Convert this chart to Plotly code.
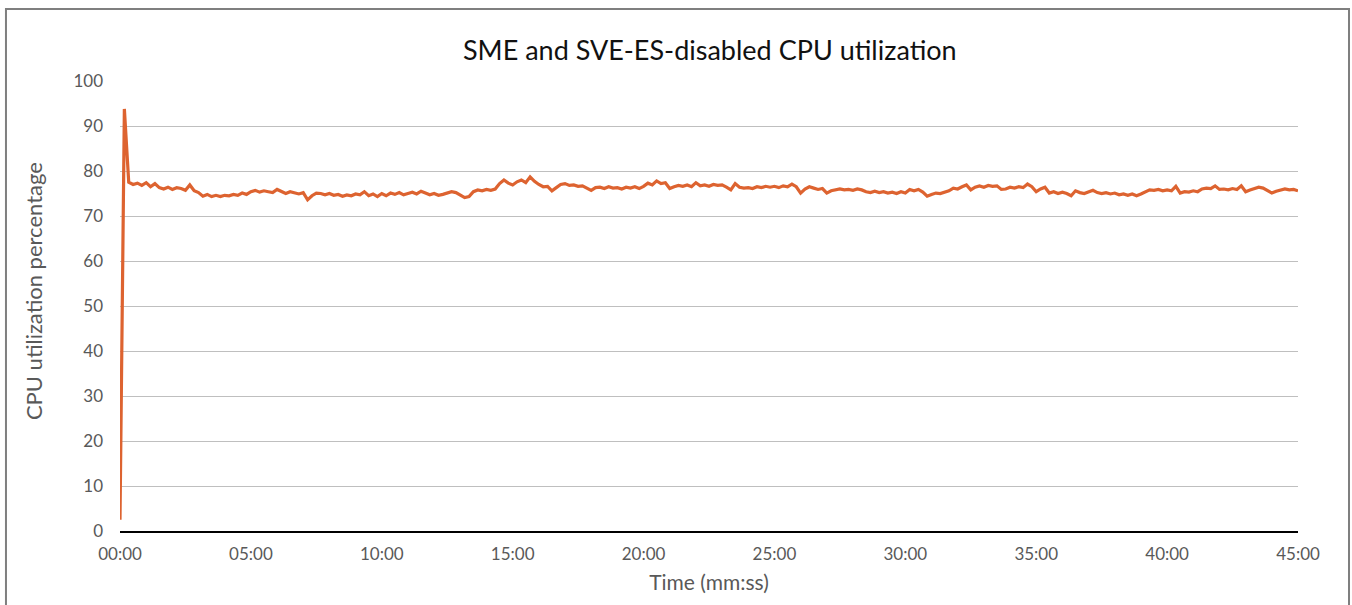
import plotly.graph_objects as go

title = "SME and SVE-ES-disabled CPU utilization"
x_title = "Time (mm:ss)"
y_title = "CPU utilization percentage"

# samples every 10 seconds, from 00:00 to 45:00
step_seconds = 10
cpu_util = [
    2.5, 93.8, 77.5, 77.0, 77.3, 76.8, 77.4, 76.5, 77.2, 76.3,
    76.0, 76.4, 75.9, 76.3, 76.1, 75.7, 76.9, 75.6, 75.2, 74.4,
    74.8, 74.3, 74.6, 74.3, 74.6, 74.5, 74.8, 74.6, 75.1, 74.8,
    75.4, 75.7, 75.3, 75.6, 75.4, 75.2, 75.9, 75.4, 75.0, 75.4,
    75.1, 74.9, 75.2, 73.6, 74.5, 75.1, 75.0, 74.7, 75.0, 74.6,
    74.8, 74.4, 74.7, 74.5, 74.9, 74.7, 75.4, 74.5, 74.9, 74.3,
    75.0, 74.5, 75.1, 74.8, 75.2, 74.7, 75.0, 75.3, 74.9, 75.5,
    75.1, 74.7, 75.0, 74.6, 74.8, 75.1, 75.4, 75.2, 74.6, 74.1,
    74.3, 75.4, 75.8, 75.6, 75.9, 75.7, 76.0, 77.2, 78.0, 77.3,
    76.9, 77.6, 78.0, 77.4, 78.7, 77.7, 77.0, 76.5, 76.6, 75.6,
    76.3, 77.0, 77.2, 76.8, 76.9, 76.6, 76.7, 76.2, 75.7, 76.3,
    76.4, 76.1, 76.5, 76.2, 76.3, 76.0, 76.4, 76.2, 76.5, 76.1,
    76.6, 77.3, 76.9, 77.8, 77.2, 77.4, 76.1, 76.5, 76.8, 76.6,
    76.9, 76.5, 77.4, 76.7, 76.9, 76.6, 77.0, 76.8, 76.9, 76.4,
    75.8, 77.2, 76.4, 76.2, 76.3, 76.1, 76.5, 76.3, 76.6, 76.4,
    76.6, 76.3, 76.7, 76.5, 77.1, 76.5, 75.1, 76.0, 76.5, 76.2,
    75.9, 76.1, 75.1, 75.6, 75.8, 76.0, 75.8, 75.9, 75.7, 76.0,
    75.8, 75.4, 75.2, 75.5, 75.2, 75.4, 75.1, 75.3, 75.0, 75.4,
    75.1, 75.9, 75.6, 75.9, 75.3, 74.4, 74.8, 75.1, 75.0, 75.3,
    75.6, 76.2, 76.0, 76.5, 76.9, 75.8, 76.4, 76.7, 76.4, 76.8,
    76.6, 76.7, 75.9, 76.0, 76.4, 76.2, 76.5, 76.3, 77.1, 76.5,
    75.4, 76.0, 76.4, 75.1, 75.4, 75.0, 75.3, 75.0, 74.5, 75.6,
    75.2, 75.0, 75.3, 75.7, 75.2, 75.0, 75.2, 74.9, 75.1, 74.7,
    74.9, 74.6, 74.9, 74.5, 74.9, 75.3, 75.8, 75.7, 75.9, 75.6,
    75.8, 75.6, 76.6, 75.1, 75.4, 75.3, 75.6, 75.4, 76.0, 76.2,
    76.1, 76.7, 75.9, 76.0, 75.8, 76.1, 75.9, 76.7, 75.4, 75.8,
    76.1, 76.4, 76.2, 75.6, 75.1, 75.5, 75.8, 76.0, 75.8, 75.9,
    75.6,
]
time_seconds = [i * step_seconds for i in range(len(cpu_util))]

x_tick_seconds = [0, 300, 600, 900, 1200, 1500, 1800, 2100, 2400, 2700]
x_tick_labels = ["00:00", "05:00", "10:00", "15:00", "20:00",
                 "25:00", "30:00", "35:00", "40:00", "45:00"]
y_ticks = [0, 10, 20, 30, 40, 50, 60, 70, 80, 90, 100]

FONT = "Lato, 'Open Sans', sans-serif"

fig = go.Figure()
fig.add_trace(go.Scatter(
    x=time_seconds, y=cpu_util, mode="lines",
    line=dict(color="#DD6330", width=3.2),
    hoverinfo="skip", showlegend=False,
))

fig.update_layout(
    width=1352, height=605,
    paper_bgcolor="white", plot_bgcolor="white",
    margin=dict(l=120, r=54, t=81, b=74),
    font=dict(family=FONT, color="#595959", size=17),
    title=dict(text=title, x=0.525, xanchor="center", y=0.917, yanchor="middle",
               font=dict(family=FONT, size=27, color="#111111")),
    xaxis=dict(
        range=[0, 2700], tickvals=x_tick_seconds, ticktext=x_tick_labels,
        showgrid=False, zeroline=False, showline=True, linecolor="#000000",
        linewidth=1.5, ticks="", tickfont=dict(size=17, color="#595959"),
        ticklabelstandoff=7,
        title=dict(text=x_title, font=dict(size=21, color="#595959"), standoff=12),
    ),
    yaxis=dict(
        range=[0, 100], tickvals=y_ticks, showgrid=True, gridcolor="#BFBFBF",
        gridwidth=1, zeroline=False, showline=False, ticks="",
        tickfont=dict(size=17, color="#595959"), ticklabelstandoff=16,
    ),
    annotations=[dict(text=y_title, xref="paper", yref="paper",
                      x=-0.0739, y=0.533, xanchor="center", yanchor="middle",
                      textangle=-90, showarrow=False,
                      font=dict(family=FONT, size=22, color="#595959"))],
    shapes=[dict(type="rect", xref="paper", yref="paper",
                 x0=-0.0968, x1=1.0433, y0=-0.176, y1=1.16,
                 line=dict(color="#7F7F7F", width=2), layer="below")],
)

fig.write_html("out.html", config={"displayModeBar": False},
               post_script="document.body.style.margin='0px';")
